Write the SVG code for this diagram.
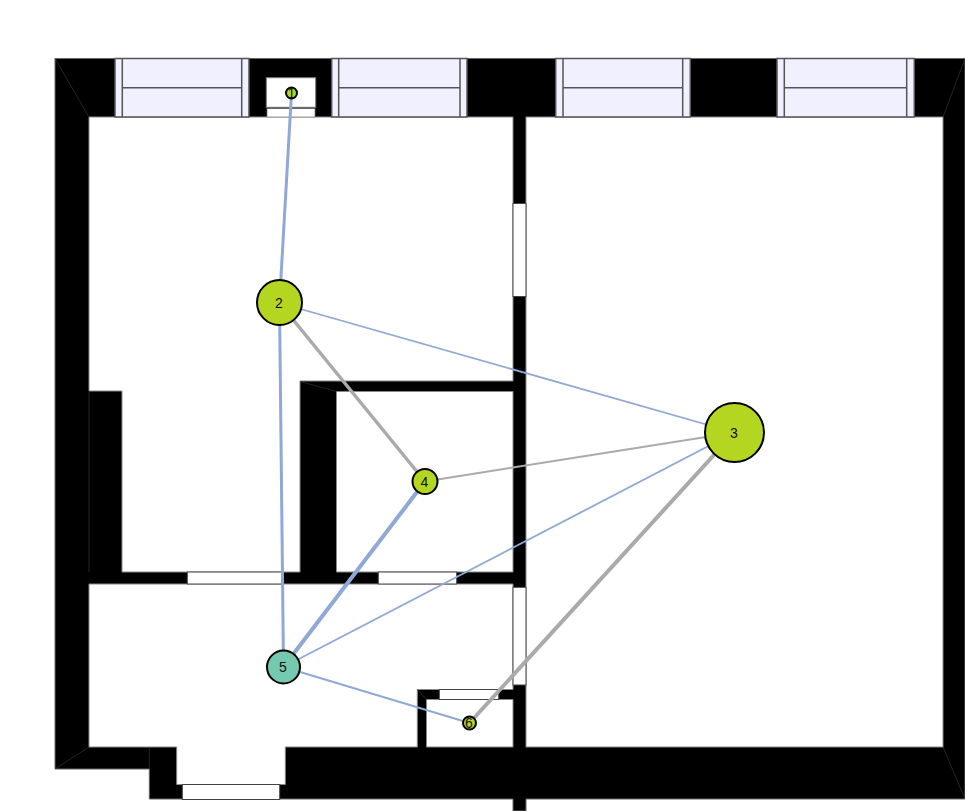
<svg xmlns="http://www.w3.org/2000/svg" width="965" height="811" viewBox="0 0 965 811">
<style>
.wall{fill:#000;stroke:#666;stroke-width:1}
.room{fill:#fff;stroke:#888;stroke-width:1}
.seam{stroke:#333;stroke-width:.7;fill:none}
.win{fill:#f0f0ff;stroke:#555;stroke-width:1.500}
.door{fill:#fff;stroke:#444;stroke-width:1}
.blue{stroke:#8fa8d6;fill:none}
.gray{stroke:#aaa;fill:none}
.node{stroke:#000;stroke-width:2}
.g{fill:#b5d621}
.t{fill:#75c9b0}
text{font-family:"Liberation Sans",Arial,sans-serif;font-size:14px;fill:#111;text-anchor:middle}
</style>
<rect width="965" height="811" fill="#fff"/>
<g id="walls">
<path class="wall" d="M55 58.500H965V799H526V811H513V799H149.300V769H55Z"/>
<path class="room" d="M89 117H513V381H300V572H122V391H89Z"/>
<path class="room" d="M336.500 391.500H513V572H336.500Z"/>
<path class="room" d="M89 584H513V689.500H417.300V747H285.300V784.500H176.700V747H89Z"/>
<path class="room" d="M426.500 699.500H513V747H426.500Z"/>
<rect class="room" x="526" y="117" width="417" height="630"/>
<path class="seam" d="M55 58.500L89 117M55 769L89 747M965 58.500L943 117M943 747L965 799M300 381.500L336.500 391.500M417.300 689.500L426.500 699.500M149.300 769V747M89 391V572"/>
</g>
<g id="windows">
<rect class="win" x="115" y="58.500" width="134" height="58.500"/><path class="win" d="M122.300 58.500V117M241.700 58.500V117M122.300 87.700H241.700"/>
<rect class="win" x="331.700" y="58.500" width="135.300" height="58.500"/><path class="win" d="M338.700 58.500V117M460 58.500V117M338.700 87.700H460"/>
<rect class="win" x="555.700" y="58.500" width="134.600" height="58.500"/><path class="win" d="M563 58.500V117M682.700 58.500V117M563 87.700H682.700"/>
<rect class="win" x="777" y="58.500" width="137.300" height="58.500"/><path class="win" d="M784.300 58.500V117M906.700 58.500V117M784.300 87.700H906.700"/>
<rect x="266.300" y="77.700" width="49.400" height="29.600" fill="#fff" stroke="#777"/>
<rect x="267" y="108.700" width="48" height="8.300" fill="#fff" stroke="#777" stroke-width=".7"/>
</g>
<g id="doors">
<rect class="door" x="513" y="203.500" width="13" height="93"/>
<rect class="door" x="513" y="587.300" width="13" height="97.700"/>
<rect class="door" x="187.300" y="572" width="94.400" height="12"/>
<rect class="door" x="378.300" y="572" width="78.400" height="12"/>
<rect class="door" x="439.300" y="689.500" width="59.400" height="10"/>
<rect class="door" x="182.300" y="784.500" width="97.400" height="15"/>
</g>
<g id="connectors">
<line class="blue" stroke-width="3" x1="291.500" y1="93" x2="279.500" y2="303"/>
<line class="blue" stroke-width="3" x1="279.500" y1="303" x2="283.500" y2="667"/>
<line class="blue" stroke-width="1.800" x1="279.500" y1="303" x2="734.500" y2="432.500"/>
<line class="gray" stroke-width="3.500" x1="279.500" y1="303" x2="425" y2="481.500"/>
<line class="gray" stroke-width="2" x1="734.500" y1="432.500" x2="425" y2="481.500"/>
<line class="blue" stroke-width="1.800" x1="734.500" y1="432.500" x2="283.500" y2="667"/>
<line class="blue" stroke-width="4" x1="425" y1="481.500" x2="283.500" y2="667"/>
<line class="gray" stroke-width="4" x1="734.500" y1="432.500" x2="469.500" y2="723"/>
<line class="blue" stroke-width="2" x1="283.500" y1="667" x2="469.500" y2="723"/>
</g>
<g id="node1"><circle class="node g" cx="291.500" cy="93" r="5.500"/><text x="291.500" y="98">1</text></g>
<g id="node2"><circle class="node g" cx="279.500" cy="302.500" r="22.500"/><text x="279" y="307.500">2</text></g>
<g id="node3"><circle class="node g" cx="734.500" cy="432.500" r="29.500"/><text x="734" y="437.500">3</text></g>
<g id="node4"><circle class="node g" cx="425" cy="481.500" r="12.500"/><text x="424.500" y="486.500">4</text></g>
<g id="node5"><circle class="node t" cx="283.500" cy="667" r="16.500"/><text x="283" y="672">5</text></g>
<g id="node6"><circle class="node g" cx="469.500" cy="723" r="6.500"/><text x="469" y="728">6</text></g>
</svg>
